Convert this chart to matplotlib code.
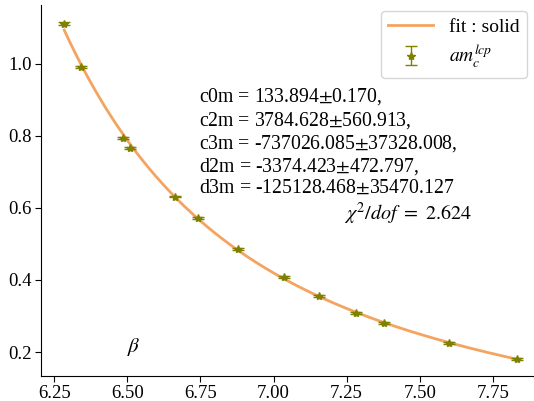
import numpy as np
import matplotlib
matplotlib.use("Agg")
import matplotlib.pyplot as plt

plt.rcParams['font.family'] = ['Liberation Serif', 'DejaVu Serif']
plt.rcParams['mathtext.fontset'] = 'stix'
plt.rcParams['font.size'] = 14

# lattice coupling and measured charm mass
beta = [6.284, 6.342, 6.486, 6.510, 6.664, 6.740, 6.880,
        7.034, 7.154, 7.281, 7.377, 7.599, 7.832]
am_c = [1.111, 0.992, 0.794, 0.767, 0.631, 0.572, 0.486,
        0.408, 0.356, 0.308, 0.281, 0.225, 0.181]
am_c_err = [0.004, 0.003, 0.003, 0.003, 0.002, 0.002, 0.002,
            0.002, 0.002, 0.002, 0.002, 0.002, 0.002]

fit_params = [
    "c0m = 133.894$\\pm$0.170,",
    "c2m = 3784.628$\\pm$560.913,",
    "c3m = -737026.085$\\pm$37328.008,",
    "d2m = -3374.423$\\pm$472.797,",
    "d3m = -125128.468$\\pm$35470.127",
]
chi2_dof = 2.624

# smooth fit through the data (log-space cubic)
coef = np.polyfit(beta, np.log(am_c), 3)
xs = np.linspace(min(beta), max(beta), 300)
ys = np.exp(np.polyval(coef, xs))

fig, ax = plt.subplots(figsize=(5.34, 4.01), dpi=100)
ax.plot(xs, ys, color='#f4a460', lw=2, label='fit : solid')
ax.errorbar(beta, am_c, yerr=am_c_err, fmt='*', color='#808000',
            markersize=6, capsize=4, elinewidth=1, label='$am_c^{lcp}$')

ax.spines['top'].set_visible(False)
ax.spines['right'].set_visible(False)
ax.set_xlim(6.205, 7.887)
ax.set_ylim(0.133, 1.164)
ax.set_xticks([6.25, 6.5, 6.75, 7.0, 7.25, 7.5, 7.75])
ax.set_yticks([0.2, 0.4, 0.6, 0.8, 1.0])
ax.tick_params(labelsize=13.5, length=4, pad=2.5)

ax.text(0.322, 0.78, "\n".join(fit_params), transform=ax.transAxes,
        va='top', ha='left', fontsize=14.2, linespacing=1.15)
ax.text(0.615, 0.42, "$\\chi^2/dof\\ =\\ %.3f$" % chi2_dof, transform=ax.transAxes,
        fontsize=14.5)
ax.text(6.5, 0.2, "$\\beta$", fontsize=15)

ax.legend(loc='upper right', fontsize=14, borderaxespad=0.3,
          handlelength=2.3, borderpad=0.4, labelspacing=0.35)

fig.subplots_adjust(left=0.077, right=0.998, top=0.988, bottom=0.062)
fig.savefig("out.png", dpi=100)
